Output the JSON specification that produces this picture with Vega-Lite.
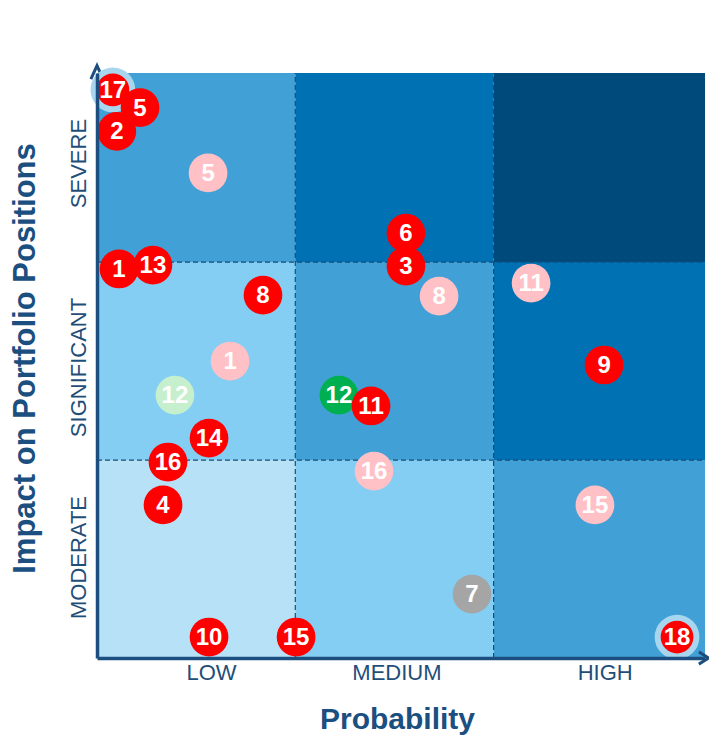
{
  "$schema": "https://vega.github.io/schema/vega-lite/v6.json",
  "width": 608,
  "height": 585,
  "autosize": {"type": "none"},
  "padding": {"left": 97, "top": 73, "right": 4, "bottom": 77},
  "background": "white",
  "config": {"view": {"stroke": null}, "font": "Liberation Sans"},
  "resolve": {"scale": {"color": "independent", "shape": "independent"}},
  "datasets": {
    "cells": [
      {"x": 0, "x2": 1, "y": 0, "y2": 1, "level": 1},
      {"x": 1, "x2": 2, "y": 0, "y2": 1, "level": 2},
      {"x": 2, "x2": 3.066, "y": 0, "y2": 1, "level": 3},
      {"x": 0, "x2": 1, "y": 1, "y2": 2, "level": 2},
      {"x": 1, "x2": 2, "y": 1, "y2": 2, "level": 3},
      {"x": 2, "x2": 3.066, "y": 1, "y2": 2, "level": 4},
      {"x": 0, "x2": 1, "y": 2, "y2": 2.955, "level": 3},
      {"x": 1, "x2": 2, "y": 2, "y2": 2.955, "level": 4},
      {"x": 2, "x2": 3.066, "y": 2, "y2": 2.955, "level": 5}
    ],
    "vlines": [
      {"x": 1, "y": 0, "y2": 2.955},
      {"x": 2, "y": 0, "y2": 2.955}
    ],
    "hlines": [
      {"y": 1, "x": 0, "x2": 3.066},
      {"y": 2, "x": 0, "x2": 3.066}
    ],
    "arrows": [
      {"x": 3.066, "y": 0, "dir": "right"},
      {"x": 0, "y": 2.955, "dir": "up"}
    ],
    "risks": [
      {"id": "17", "x": 0.08, "y": 2.87, "status": "current", "halo": true, "z": 0},
      {"id": "12", "x": 1.22, "y": 1.328, "status": "positive", "halo": false, "z": 0},
      {"id": "6", "x": 1.558, "y": 2.146, "status": "current", "halo": false, "z": 0},
      {"id": "1", "x": 0.111, "y": 1.965, "status": "current", "halo": false, "z": 0},
      {"id": "5", "x": 0.217, "y": 2.78, "status": "current", "halo": false, "z": 1},
      {"id": "2", "x": 0.1, "y": 2.66, "status": "current", "halo": false, "z": 1},
      {"id": "5", "x": 0.56, "y": 2.45, "status": "previous", "halo": false, "z": 1},
      {"id": "3", "x": 1.558, "y": 1.98, "status": "current", "halo": false, "z": 1},
      {"id": "13", "x": 0.282, "y": 1.985, "status": "current", "halo": false, "z": 1},
      {"id": "8", "x": 0.837, "y": 1.833, "status": "current", "halo": false, "z": 1},
      {"id": "8", "x": 1.725, "y": 1.828, "status": "previous", "halo": false, "z": 1},
      {"id": "11", "x": 2.189, "y": 1.894, "status": "previous", "halo": false, "z": 1},
      {"id": "1", "x": 0.671, "y": 1.5, "status": "previous", "halo": false, "z": 1},
      {"id": "9", "x": 2.557, "y": 1.48, "status": "current", "halo": false, "z": 1},
      {"id": "12", "x": 0.393, "y": 1.328, "status": "previous positive", "halo": false, "z": 1},
      {"id": "11", "x": 1.382, "y": 1.273, "status": "current", "halo": false, "z": 1},
      {"id": "14", "x": 0.565, "y": 1.111, "status": "current", "halo": false, "z": 1},
      {"id": "16", "x": 0.358, "y": 0.99, "status": "current", "halo": false, "z": 1},
      {"id": "16", "x": 1.397, "y": 0.944, "status": "previous", "halo": false, "z": 1},
      {"id": "4", "x": 0.333, "y": 0.773, "status": "current", "halo": false, "z": 1},
      {"id": "15", "x": 2.511, "y": 0.773, "status": "previous", "halo": false, "z": 1},
      {"id": "7", "x": 1.891, "y": 0.323, "status": "neutral", "halo": false, "z": 1},
      {"id": "10", "x": 0.565, "y": 0.106, "status": "current", "halo": false, "z": 1},
      {"id": "15", "x": 1.004, "y": 0.106, "status": "current", "halo": false, "z": 1},
      {"id": "18", "x": 2.925, "y": 0.106, "status": "current", "halo": true, "z": 1}
    ]
  },
  "encoding": {
    "x": {
      "field": "x",
      "type": "quantitative",
      "scale": {"domain": [0, 3.066], "nice": false, "zero": false},
      "axis": {
        "title": "Probability",
        "values": [0.575, 1.51, 2.56],
        "labelExpr": "datum.value < 1 ? 'LOW' : datum.value < 2 ? 'MEDIUM' : 'HIGH'",
        "ticks": false,
        "grid": false,
        "domainColor": "#1c4f7f",
        "domainWidth": 3.5,
        "labelColor": "#1f4e79",
        "labelFont": "Liberation Sans",
        "labelFontSize": 22,
        "labelPadding": 4,
        "labelBaseline": "top",
        "labelFlush": false,
        "labelOverlap": false,
        "titleFont": "Liberation Sans",
        "titleFontSize": 30,
        "titleFontWeight": "bold",
        "titleColor": "#1a4f80",
        "titleBaseline": "alphabetic",
        "titleAlign": "center",
        "titleX": 300,
        "titleY": 70,
        "zindex": 1
      }
    },
    "y": {
      "field": "y",
      "type": "quantitative",
      "scale": {"domain": [0, 2.955], "nice": false, "zero": false},
      "axis": {
        "title": "Impact on Portfolio Positions",
        "values": [0.51, 1.47, 2.5],
        "labelExpr": "datum.value < 1 ? 'MODERATE' : datum.value < 2 ? 'SIGNIFICANT' : 'SEVERE'",
        "ticks": false,
        "grid": false,
        "domainColor": "#1c4f7f",
        "domainWidth": 3.5,
        "labelColor": "#1f4e79",
        "labelFont": "Liberation Sans",
        "labelFontSize": 22,
        "labelAngle": 270,
        "labelAlign": "center",
        "labelBaseline": "alphabetic",
        "labelPadding": 12,
        "labelFlush": false,
        "labelOverlap": false,
        "titleFont": "Liberation Sans",
        "titleFontSize": 31,
        "titleFontWeight": "bold",
        "titleColor": "#1a4f80",
        "titleAngle": 270,
        "titleBaseline": "alphabetic",
        "titleAlign": "center",
        "titleX": -63,
        "titleY": 285,
        "zindex": 1
      }
    }
  },
  "layer": [
    {
      "data": {"name": "cells"},
      "mark": {"type": "rect"},
      "encoding": {
        "x2": {"field": "x2"},
        "y2": {"field": "y2"},
        "fill": {
          "field": "level",
          "type": "ordinal",
          "scale": {"domain": [1, 2, 3, 4, 5], "range": ["#b7e1f7", "#84cef3", "#41a1d6", "#0072b3", "#004a7b"]},
          "legend": null
        }
      }
    },
    {
      "data": {"name": "vlines"},
      "mark": {"type": "rule", "color": "#1b4a75", "strokeWidth": 1.2, "strokeDash": [5, 3]},
      "encoding": {"y2": {"field": "y2"}}
    },
    {
      "data": {"name": "hlines"},
      "mark": {"type": "rule", "color": "#1b4a75", "strokeWidth": 1.2, "strokeDash": [5, 3]},
      "encoding": {"x2": {"field": "x2"}}
    },
    {
      "data": {"name": "arrows"},
      "mark": {"type": "point", "filled": false, "stroke": "#1c4f7f", "strokeWidth": 3, "size": 150, "clip": false, "opacity": 1},
      "encoding": {
        "shape": {
          "field": "dir",
          "type": "nominal",
          "scale": {"domain": ["right", "up"], "range": ["M-1,-1L0.6,0L-1,1", "M-1,1L0,-1.2L1,1"]},
          "legend": null
        }
      }
    },
    {
      "data": {"name": "risks"},
      "transform": [{"filter": "datum.z == 0"}],
      "mark": {"type": "circle", "size": 1500, "opacity": 1, "stroke": "#a9d6ef", "strokeWidth": 6, "clip": false},
      "encoding": {
        "color": {
          "field": "status",
          "type": "nominal",
          "scale": {"domain": ["current", "previous", "positive", "previous positive", "neutral"], "range": ["#ff0000", "#ffc0c6", "#00b050", "#c6efce", "#a5a5a5"]},
          "legend": null
        },
        "strokeOpacity": {"condition": {"test": "datum.halo", "value": 1}, "value": 0}
      }
    },
    {
      "data": {"name": "risks"},
      "transform": [{"filter": "datum.z == 0"}],
      "mark": {"type": "text", "color": "white", "fontWeight": "bold", "fontSize": 24, "font": "Liberation Sans", "baseline": "middle", "dy": 1, "clip": false},
      "encoding": {"text": {"field": "id", "type": "nominal"}}
    },
    {
      "data": {"name": "risks"},
      "transform": [{"filter": "datum.z == 1"}],
      "mark": {"type": "circle", "size": 1500, "opacity": 1, "stroke": "#a9d6ef", "strokeWidth": 6, "clip": false},
      "encoding": {
        "color": {
          "field": "status",
          "type": "nominal",
          "scale": {"domain": ["current", "previous", "positive", "previous positive", "neutral"], "range": ["#ff0000", "#ffc0c6", "#00b050", "#c6efce", "#a5a5a5"]},
          "legend": null
        },
        "strokeOpacity": {"condition": {"test": "datum.halo", "value": 1}, "value": 0}
      }
    },
    {
      "data": {"name": "risks"},
      "transform": [{"filter": "datum.z == 1"}],
      "mark": {"type": "text", "color": "white", "fontWeight": "bold", "fontSize": 24, "font": "Liberation Sans", "baseline": "middle", "dy": 1, "clip": false},
      "encoding": {"text": {"field": "id", "type": "nominal"}}
    }
  ]
}
